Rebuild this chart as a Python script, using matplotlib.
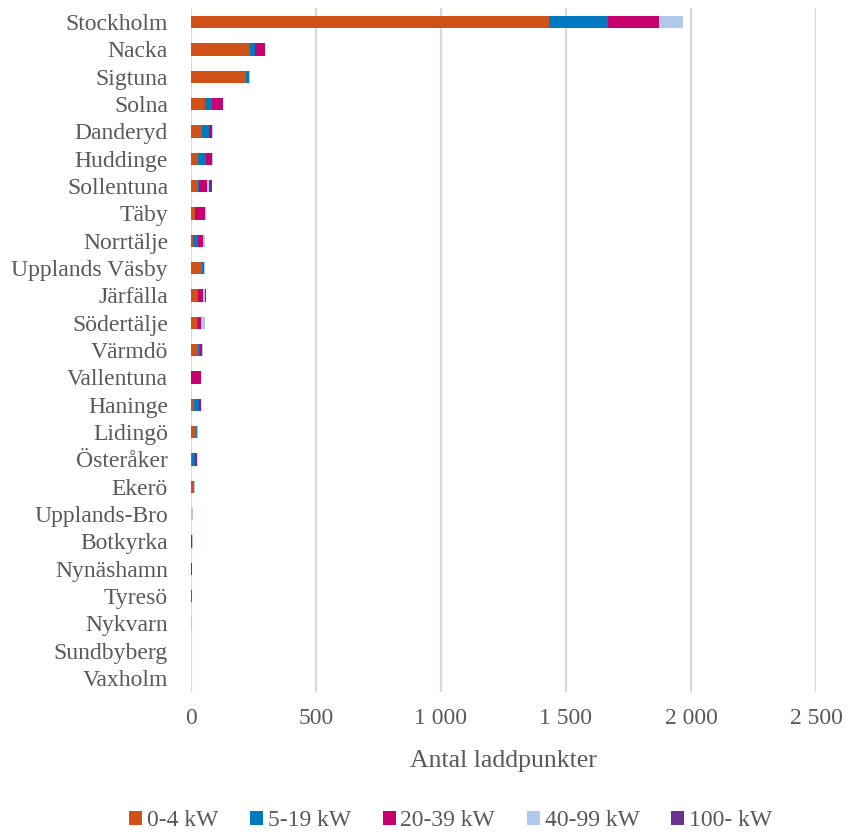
import matplotlib
matplotlib.use("Agg")
import matplotlib.pyplot as plt
from matplotlib.ticker import FuncFormatter
import numpy as np

plt.rcParams['font.family'] = ['Liberation Serif', 'DejaVu Serif']

categories = ["Stockholm", "Nacka", "Sigtuna", "Solna", "Danderyd", "Huddinge",
              "Sollentuna", "Täby", "Norrtälje", "Upplands Väsby", "Järfälla",
              "Södertälje", "Värmdö", "Vallentuna", "Haninge", "Lidingö",
              "Österåker", "Ekerö", "Upplands-Bro", "Botkyrka", "Nynäshamn",
              "Tyresö", "Nykvarn", "Sundbyberg", "Vaxholm"]

kw_0_4   = [1433, 235, 220, 56, 45, 28, 27, 18, 8, 43, 27, 23, 27, 0, 11, 19, 5, 11, 0, 0, 1, 0, 0, 0, 0]
kw_5_19  = [236, 21, 12, 28, 28, 32, 5, 0, 21, 8, 3, 7, 11, 0, 20, 4, 11, 0, 0, 0, 0, 3, 0, 0, 2]
kw_20_39 = [203, 39, 0, 43, 13, 23, 32, 37, 21, 0, 17, 11, 8, 39, 8, 0, 7, 0, 0, 5, 2, 0, 0, 0, 0]
kw_40_99 = [96, 2, 3, 3, 2, 7, 9, 7, 5, 5, 11, 16, 2, 0, 2, 5, 1, 4, 8, 2, 3, 3, 5, 2, 0]
kw_100   = [0, 0, 0, 0, 0, 0, 13, 0, 0, 0, 2, 0, 0, 0, 0, 0, 0, 0, 0, 0, 0, 0, 0, 0, 0]

series = [("0-4 kW", kw_0_4, '#D05219'),
          ("5-19 kW", kw_5_19, '#0079C1'),
          ("20-39 kW", kw_20_39, '#C6006F'),
          ("40-99 kW", kw_40_99, '#AFC8EC'),
          ("100- kW", kw_100, '#6A318F')]

fig = plt.figure(figsize=(8.5, 8.36), dpi=100)
ax = fig.add_axes([0.2247, 0.1726, 0.7353, 0.8174])

y = np.arange(len(categories))
left = np.zeros(len(categories))
for name, vals, col in series:
    vals = np.array(vals, dtype=float)
    ax.barh(y, vals, left=left, height=0.45, color=col, label=name, zorder=3)
    left += vals

ax.set_ylim(len(categories) - 0.5, -0.5)
ax.set_xlim(0, 2500)
ax.set_yticks(y)
ax.set_yticklabels(categories, fontsize=17, color='#595959')
ax.set_xticks([0, 500, 1000, 1500, 2000, 2500])
ax.xaxis.set_major_formatter(FuncFormatter(lambda v, p: f"{int(v):,}".replace(",", "\u00a0")))
ax.tick_params(axis='x', labelsize=17, colors='#595959', length=0, pad=12)
ax.tick_params(axis='y', length=0, pad=16.5)
ax.grid(axis='x', color='#D9D9D9', linewidth=1.6, zorder=0)
for s in ax.spines.values():
    s.set_visible(False)
ax.set_xlabel("Antal laddpunkter", fontsize=18.5, color='#595959', labelpad=15)

fig.legend(loc='lower center', bbox_to_anchor=(0.53, -0.02), ncol=5, frameon=False,
           fontsize=17, handlelength=0.55, handleheight=0.55, handletextpad=0.2,
           columnspacing=1.35, labelcolor='#595959')

fig.savefig("out.png", dpi=100)
